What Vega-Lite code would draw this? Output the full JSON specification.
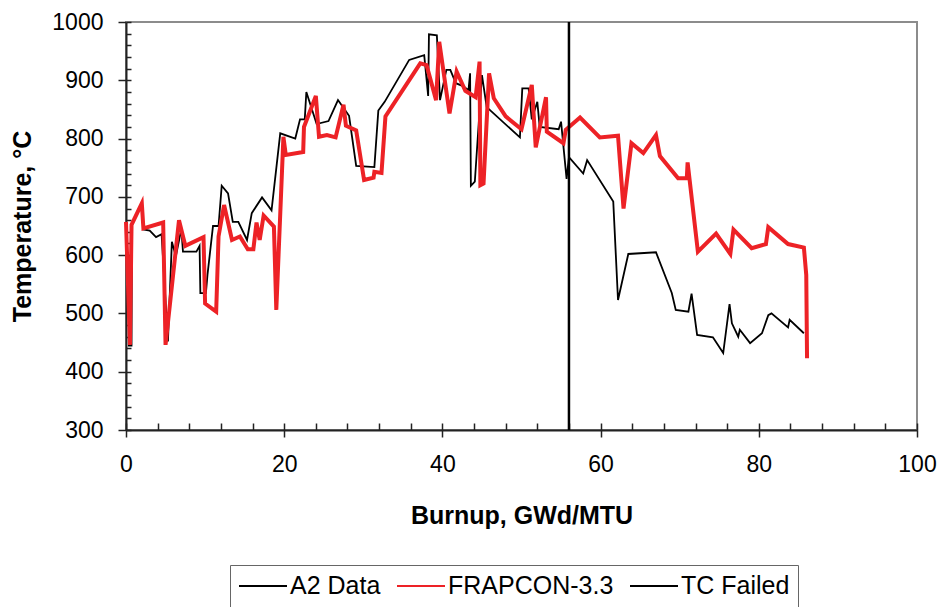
{
  "$schema": "https://vega.github.io/schema/vega-lite/v6.json",
  "width": 791,
  "height": 408,
  "autosize": {"type": "none"},
  "padding": {"left": 126, "top": 22, "right": 26, "bottom": 177},
  "background": "white",
  "config": {
    "font": "Liberation Sans",
    "view": {"stroke": "#8c8c8c", "strokeWidth": 2},
    "axis": {
      "labelFont": "Liberation Sans",
      "titleFont": "Liberation Sans",
      "labelColor": "black",
      "titleColor": "black",
      "tickColor": "#222",
      "domainColor": "#222",
      "tickWidth": 1.5,
      "domainWidth": 2,
      "grid": false
    },
    "legend": {"labelFont": "Liberation Sans"}
  },
  "datasets": {
    "series": [
      {"series": "A2 Data", "burnup": 0.25, "temp": 445},
      {"series": "A2 Data", "burnup": 0.7, "temp": 445},
      {"series": "A2 Data", "burnup": 0.75, "temp": 652},
      {"series": "A2 Data", "burnup": 2.0, "temp": 689},
      {"series": "A2 Data", "burnup": 2.2, "temp": 644},
      {"series": "A2 Data", "burnup": 3.0, "temp": 642},
      {"series": "A2 Data", "burnup": 3.8, "temp": 631},
      {"series": "A2 Data", "burnup": 4.5, "temp": 636},
      {"series": "A2 Data", "burnup": 5.3, "temp": 452},
      {"series": "A2 Data", "burnup": 5.8, "temp": 623},
      {"series": "A2 Data", "burnup": 6.3, "temp": 598},
      {"series": "A2 Data", "burnup": 7.0, "temp": 645},
      {"series": "A2 Data", "burnup": 7.2, "temp": 606},
      {"series": "A2 Data", "burnup": 8.9, "temp": 606},
      {"series": "A2 Data", "burnup": 9.3, "temp": 616},
      {"series": "A2 Data", "burnup": 9.4, "temp": 535},
      {"series": "A2 Data", "burnup": 10.1, "temp": 535},
      {"series": "A2 Data", "burnup": 10.3, "temp": 566},
      {"series": "A2 Data", "burnup": 11.0, "temp": 650},
      {"series": "A2 Data", "burnup": 11.7, "temp": 650},
      {"series": "A2 Data", "burnup": 12.1, "temp": 719},
      {"series": "A2 Data", "burnup": 12.9, "temp": 706},
      {"series": "A2 Data", "burnup": 13.5, "temp": 657},
      {"series": "A2 Data", "burnup": 14.2, "temp": 657},
      {"series": "A2 Data", "burnup": 15.3, "temp": 626},
      {"series": "A2 Data", "burnup": 15.9, "temp": 672},
      {"series": "A2 Data", "burnup": 17.2, "temp": 699},
      {"series": "A2 Data", "burnup": 18.4, "temp": 677},
      {"series": "A2 Data", "burnup": 19.5, "temp": 809},
      {"series": "A2 Data", "burnup": 21.4, "temp": 800},
      {"series": "A2 Data", "burnup": 22.0, "temp": 833},
      {"series": "A2 Data", "burnup": 22.6, "temp": 833},
      {"series": "A2 Data", "burnup": 22.8, "temp": 880},
      {"series": "A2 Data", "burnup": 24.1, "temp": 825},
      {"series": "A2 Data", "burnup": 25.6, "temp": 830},
      {"series": "A2 Data", "burnup": 26.8, "temp": 866},
      {"series": "A2 Data", "burnup": 28.2, "temp": 839},
      {"series": "A2 Data", "burnup": 29.1, "temp": 753},
      {"series": "A2 Data", "burnup": 31.4, "temp": 751},
      {"series": "A2 Data", "burnup": 31.9, "temp": 848},
      {"series": "A2 Data", "burnup": 32.7, "temp": 863},
      {"series": "A2 Data", "burnup": 35.8, "temp": 935},
      {"series": "A2 Data", "burnup": 37.7, "temp": 943},
      {"series": "A2 Data", "burnup": 38.2, "temp": 873},
      {"series": "A2 Data", "burnup": 38.3, "temp": 979},
      {"series": "A2 Data", "burnup": 39.3, "temp": 977},
      {"series": "A2 Data", "burnup": 39.7, "temp": 866},
      {"series": "A2 Data", "burnup": 40.5, "temp": 918},
      {"series": "A2 Data", "burnup": 41.0, "temp": 918},
      {"series": "A2 Data", "burnup": 41.7, "temp": 895},
      {"series": "A2 Data", "burnup": 42.6, "temp": 890},
      {"series": "A2 Data", "burnup": 43.3, "temp": 883},
      {"series": "A2 Data", "burnup": 43.5, "temp": 912},
      {"series": "A2 Data", "burnup": 43.6, "temp": 719},
      {"series": "A2 Data", "burnup": 44.1, "temp": 726},
      {"series": "A2 Data", "burnup": 45.0, "temp": 909},
      {"series": "A2 Data", "burnup": 45.6, "temp": 854},
      {"series": "A2 Data", "burnup": 49.8, "temp": 802},
      {"series": "A2 Data", "burnup": 50.1, "temp": 886},
      {"series": "A2 Data", "burnup": 50.9, "temp": 886},
      {"series": "A2 Data", "burnup": 51.3, "temp": 833},
      {"series": "A2 Data", "burnup": 52.0, "temp": 863},
      {"series": "A2 Data", "burnup": 52.3, "temp": 820},
      {"series": "A2 Data", "burnup": 54.7, "temp": 816},
      {"series": "A2 Data", "burnup": 55.0, "temp": 829},
      {"series": "A2 Data", "burnup": 55.7, "temp": 731},
      {"series": "A2 Data", "burnup": 56.0, "temp": 768},
      {"series": "A2 Data", "burnup": 57.8, "temp": 740},
      {"series": "A2 Data", "burnup": 58.3, "temp": 763},
      {"series": "A2 Data", "burnup": 61.6, "temp": 692},
      {"series": "A2 Data", "burnup": 62.2, "temp": 523},
      {"series": "A2 Data", "burnup": 63.5, "temp": 602},
      {"series": "A2 Data", "burnup": 67.0, "temp": 605},
      {"series": "A2 Data", "burnup": 69.0, "temp": 535},
      {"series": "A2 Data", "burnup": 69.5, "temp": 506},
      {"series": "A2 Data", "burnup": 71.1, "temp": 503},
      {"series": "A2 Data", "burnup": 71.5, "temp": 534},
      {"series": "A2 Data", "burnup": 72.2, "temp": 463},
      {"series": "A2 Data", "burnup": 74.2, "temp": 459},
      {"series": "A2 Data", "burnup": 75.5, "temp": 432},
      {"series": "A2 Data", "burnup": 76.3, "temp": 516},
      {"series": "A2 Data", "burnup": 76.6, "temp": 483},
      {"series": "A2 Data", "burnup": 77.4, "temp": 460},
      {"series": "A2 Data", "burnup": 77.6, "temp": 472},
      {"series": "A2 Data", "burnup": 78.9, "temp": 449},
      {"series": "A2 Data", "burnup": 80.4, "temp": 466},
      {"series": "A2 Data", "burnup": 81.2, "temp": 497},
      {"series": "A2 Data", "burnup": 81.6, "temp": 500},
      {"series": "A2 Data", "burnup": 83.7, "temp": 476},
      {"series": "A2 Data", "burnup": 83.9, "temp": 489},
      {"series": "A2 Data", "burnup": 85.7, "temp": 466},
      {"series": "FRAPCON-3.3", "burnup": 0.0, "temp": 657},
      {"series": "FRAPCON-3.3", "burnup": 0.5, "temp": 446},
      {"series": "FRAPCON-3.3", "burnup": 0.7, "temp": 652},
      {"series": "FRAPCON-3.3", "burnup": 2.0, "temp": 689},
      {"series": "FRAPCON-3.3", "burnup": 2.2, "temp": 646},
      {"series": "FRAPCON-3.3", "burnup": 4.7, "temp": 656},
      {"series": "FRAPCON-3.3", "burnup": 5.0, "temp": 446},
      {"series": "FRAPCON-3.3", "burnup": 6.7, "temp": 660},
      {"series": "FRAPCON-3.3", "burnup": 7.5, "temp": 616},
      {"series": "FRAPCON-3.3", "burnup": 9.8, "temp": 631},
      {"series": "FRAPCON-3.3", "burnup": 10.0, "temp": 517},
      {"series": "FRAPCON-3.3", "burnup": 11.4, "temp": 503},
      {"series": "FRAPCON-3.3", "burnup": 11.7, "temp": 632},
      {"series": "FRAPCON-3.3", "burnup": 12.4, "temp": 686},
      {"series": "FRAPCON-3.3", "burnup": 13.4, "temp": 626},
      {"series": "FRAPCON-3.3", "burnup": 14.4, "temp": 632},
      {"series": "FRAPCON-3.3", "burnup": 15.4, "temp": 610},
      {"series": "FRAPCON-3.3", "burnup": 16.1, "temp": 610},
      {"series": "FRAPCON-3.3", "burnup": 16.5, "temp": 656},
      {"series": "FRAPCON-3.3", "burnup": 16.9, "temp": 626},
      {"series": "FRAPCON-3.3", "burnup": 17.4, "temp": 668},
      {"series": "FRAPCON-3.3", "burnup": 18.7, "temp": 649},
      {"series": "FRAPCON-3.3", "burnup": 19.0, "temp": 506},
      {"series": "FRAPCON-3.3", "burnup": 19.9, "temp": 803},
      {"series": "FRAPCON-3.3", "burnup": 20.2, "temp": 772},
      {"series": "FRAPCON-3.3", "burnup": 22.4, "temp": 777},
      {"series": "FRAPCON-3.3", "burnup": 22.5, "temp": 820},
      {"series": "FRAPCON-3.3", "burnup": 24.0, "temp": 873},
      {"series": "FRAPCON-3.3", "burnup": 24.4, "temp": 803},
      {"series": "FRAPCON-3.3", "burnup": 25.4, "temp": 806},
      {"series": "FRAPCON-3.3", "burnup": 26.5, "temp": 802},
      {"series": "FRAPCON-3.3", "burnup": 27.5, "temp": 858},
      {"series": "FRAPCON-3.3", "burnup": 27.8, "temp": 822},
      {"series": "FRAPCON-3.3", "burnup": 29.1, "temp": 814},
      {"series": "FRAPCON-3.3", "burnup": 30.1, "temp": 729},
      {"series": "FRAPCON-3.3", "burnup": 31.3, "temp": 733},
      {"series": "FRAPCON-3.3", "burnup": 31.4, "temp": 743},
      {"series": "FRAPCON-3.3", "burnup": 32.3, "temp": 741},
      {"series": "FRAPCON-3.3", "burnup": 32.8, "temp": 838},
      {"series": "FRAPCON-3.3", "burnup": 37.2, "temp": 929},
      {"series": "FRAPCON-3.3", "burnup": 38.0, "temp": 926},
      {"series": "FRAPCON-3.3", "burnup": 39.2, "temp": 866},
      {"series": "FRAPCON-3.3", "burnup": 39.6, "temp": 966},
      {"series": "FRAPCON-3.3", "burnup": 40.9, "temp": 843},
      {"series": "FRAPCON-3.3", "burnup": 41.8, "temp": 915},
      {"series": "FRAPCON-3.3", "burnup": 42.9, "temp": 882},
      {"series": "FRAPCON-3.3", "burnup": 44.2, "temp": 871},
      {"series": "FRAPCON-3.3", "burnup": 44.7, "temp": 932},
      {"series": "FRAPCON-3.3", "burnup": 44.8, "temp": 720},
      {"series": "FRAPCON-3.3", "burnup": 45.2, "temp": 723},
      {"series": "FRAPCON-3.3", "burnup": 45.9, "temp": 912},
      {"series": "FRAPCON-3.3", "burnup": 46.5, "temp": 869},
      {"series": "FRAPCON-3.3", "burnup": 48.0, "temp": 838},
      {"series": "FRAPCON-3.3", "burnup": 50.0, "temp": 816},
      {"series": "FRAPCON-3.3", "burnup": 51.3, "temp": 892},
      {"series": "FRAPCON-3.3", "burnup": 51.8, "temp": 785},
      {"series": "FRAPCON-3.3", "burnup": 53.1, "temp": 871},
      {"series": "FRAPCON-3.3", "burnup": 53.2, "temp": 812},
      {"series": "FRAPCON-3.3", "burnup": 55.3, "temp": 792},
      {"series": "FRAPCON-3.3", "burnup": 55.6, "temp": 815},
      {"series": "FRAPCON-3.3", "burnup": 57.4, "temp": 836},
      {"series": "FRAPCON-3.3", "burnup": 59.9, "temp": 802},
      {"series": "FRAPCON-3.3", "burnup": 62.2, "temp": 805},
      {"series": "FRAPCON-3.3", "burnup": 62.9, "temp": 680},
      {"series": "FRAPCON-3.3", "burnup": 63.9, "temp": 792},
      {"series": "FRAPCON-3.3", "burnup": 65.4, "temp": 775},
      {"series": "FRAPCON-3.3", "burnup": 67.0, "temp": 806},
      {"series": "FRAPCON-3.3", "burnup": 67.5, "temp": 770},
      {"series": "FRAPCON-3.3", "burnup": 69.8, "temp": 732},
      {"series": "FRAPCON-3.3", "burnup": 70.9, "temp": 732},
      {"series": "FRAPCON-3.3", "burnup": 71.0, "temp": 759},
      {"series": "FRAPCON-3.3", "burnup": 72.3, "temp": 606},
      {"series": "FRAPCON-3.3", "burnup": 74.6, "temp": 637},
      {"series": "FRAPCON-3.3", "burnup": 76.4, "temp": 602},
      {"series": "FRAPCON-3.3", "burnup": 76.8, "temp": 644},
      {"series": "FRAPCON-3.3", "burnup": 79.1, "temp": 612},
      {"series": "FRAPCON-3.3", "burnup": 80.9, "temp": 619},
      {"series": "FRAPCON-3.3", "burnup": 81.2, "temp": 648},
      {"series": "FRAPCON-3.3", "burnup": 83.7, "temp": 619},
      {"series": "FRAPCON-3.3", "burnup": 85.7, "temp": 613},
      {"series": "FRAPCON-3.3", "burnup": 86.0, "temp": 566},
      {"series": "FRAPCON-3.3", "burnup": 86.1, "temp": 423}
    ],
    "failed": [
      {"series": "TC Failed", "burnup": 56.0}
    ]
  },
  "resolve": {"axis": {"x": "independent", "y": "independent"}},
  "layer": [
    {
      "data": {"name": "series"},
      "mark": {"type": "line"},
      "encoding": {
        "x": {
          "field": "burnup", "type": "quantitative",
          "scale": {"domain": [0, 100], "nice": false, "zero": false},
          "axis": {
            "orient": "bottom",
            "title": "Burnup, GWd/MTU",
            "values": [0, 20, 40, 60, 80, 100],
            "tickSize": 7,
            "labelFontSize": 23,
            "labelPadding": 16,
            "titleFontSize": 25,
            "titleFontWeight": "bold",
            "titlePadding": 27,
            "labelFlush": false,
            "labelOverlap": false
          }
        },
        "y": {
          "field": "temp", "type": "quantitative",
          "scale": {"domain": [300, 1000], "nice": false, "zero": false},
          "axis": {
            "orient": "left",
            "title": "Temperature, °C",
            "format": "d",
            "values": [300, 400, 500, 600, 700, 800, 900, 1000],
            "tickSize": 8,
            "labelFontSize": 23,
            "labelPadding": 15,
            "titleFontSize": 25,
            "titleFontWeight": "bold",
            "titlePadding": 16,
            "labelFlush": false,
            "labelOverlap": false
          }
        },
        "color": {
          "field": "series", "type": "nominal",
          "scale": {"domain": ["A2 Data", "FRAPCON-3.3", "TC Failed"], "range": ["#000000", "#ed2226", "#000000"]},
          "legend": {
            "title": null,
            "orient": "none",
            "direction": "horizontal",
            "legendX": 104,
            "legendY": 543,
            "symbolType": "M-2,0H2",
            "symbolSize": 576,
            "symbolOffset": 12,
            "symbolStrokeWidth": 1.8,
            "labelFontSize": 25,
            "labelLimit": 400,
            "labelColor": "black",
            "labelOffset": 14,
            "columnPadding": 12,
            "padding": 8,
            "strokeColor": "#666666",
            "fillColor": "white",
            "encoding": {
              "symbols": {
                "update": {
                  "strokeWidth": {"signal": "datum.value === 'FRAPCON-3.3' ? 4 : 1.8"}
                }
              }
            }
          }
        },
        "strokeWidth": {
          "field": "series", "type": "nominal",
          "scale": {"type": "ordinal", "domain": ["A2 Data", "FRAPCON-3.3", "TC Failed"], "range": [1.8, 4, 1.8]},
          "legend": null
        }
      }
    },
    {
      "data": {"name": "failed"},
      "mark": {"type": "rule"},
      "encoding": {
        "x": {
          "field": "burnup", "type": "quantitative",
          "scale": {"domain": [0, 100], "nice": false, "zero": false},
          "axis": {
            "orient": "bottom",
            "title": null,
            "values": [0, 4, 8, 12, 16, 20, 24, 28, 32, 36, 40, 44, 48, 52, 56, 60, 64, 68, 72, 76, 80, 84, 88, 92, 96, 100],
            "tickSize": -7,
            "labels": false,
            "domain": false
          }
        },
        "y": {
          "datum": 300, "type": "quantitative",
          "axis": {
            "orient": "left",
            "title": null,
            "values": [300, 320, 340, 360, 380, 400, 420, 440, 460, 480, 500, 520, 540, 560, 580, 600, 620, 640, 660, 680, 700, 720, 740, 760, 780, 800, 820, 840, 860, 880, 900, 920, 940, 960, 980, 1000],
            "tickSize": -5,
            "labels": false,
            "domain": false
          }
        },
        "y2": {"datum": 1000},
        "color": {"field": "series", "type": "nominal"},
        "strokeWidth": {"field": "series", "type": "nominal", "legend": null}
      }
    }
  ]
}
